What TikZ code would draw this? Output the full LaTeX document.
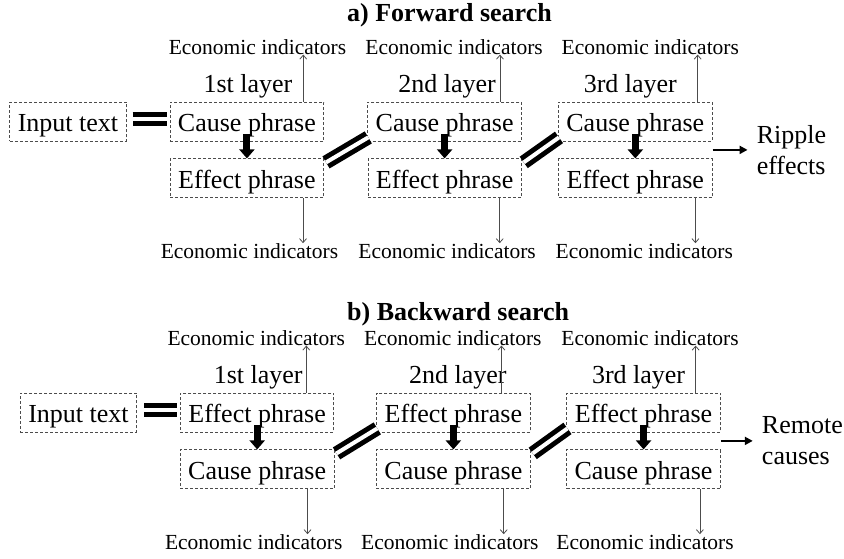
\documentclass[tikz,border=0pt]{standalone}
\usepackage{fontspec}
\setmainfont{Liberation Serif}
\usetikzlibrary{positioning, calc, arrows.meta}

\begin{document}
\begin{tikzpicture}[x=1pt, y=1pt]
  \newcommand\layergap{43pt}
  \newcommand\lastgap{36pt}
  \newcommand\rowgap{17pt}

  \tikzset{phrase/.style={draw=black!70, dash pattern=on 3pt off 2pt, line width=0.8pt, inner xsep=8pt, inner ysep=0pt, text height=29.5pt, text depth=9.5pt, font=\fontsize{26}{31}\selectfont}}
  \tikzset{bigtxt/.style={inner sep=0pt, font=\fontsize{26}{31}\selectfont}}
  \tikzset{indtxt/.style={inner sep=0pt, font=\fontsize{21.5}{25}\selectfont}}
  \tikzset{ttl/.style={inner sep=0pt, anchor=base west, font=\fontsize{26}{31}\selectfont\bfseries}}
  \tikzset{indptr/.style={draw=black!70, line width=0.8pt, -{Straight Barb[length=4pt, width=7pt]}}}
  \tikzset{stepptr/.style={line width=7pt, -{Triangle[length=9pt, width=15pt]}}}
  \tikzset{outptr/.style={line width=2.2pt, -{Triangle[length=8pt, width=8pt]}}}
  \tikzset{eqline/.style={line width=5pt, double, double distance=4pt}}

  \useasboundingbox (0, 0) rectangle (844, 558);

  % a) forward search
  \node[ttl] (fwd-title) at (347, 536) {a) Forward search};
  \node[phrase] (fwd-in) at (68, 436.5) {Input text};
  \node[phrase, right=\layergap of fwd-in] (fwd-t1) {Cause phrase};
  \node[phrase, below=\rowgap of fwd-t1] (fwd-b1) {Effect phrase};
  \node[phrase, right=\layergap of fwd-t1] (fwd-t2) {Cause phrase};
  \node[phrase, below=\rowgap of fwd-t2] (fwd-b2) {Effect phrase};
  \node[phrase, right=\lastgap of fwd-t2] (fwd-t3) {Cause phrase};
  \node[phrase, below=\rowgap of fwd-t3] (fwd-b3) {Effect phrase};
  \coordinate (fwd-out) at ($(fwd-t3.south east)!0.5!(fwd-b3.north east)$);
  \node[bigtxt, align=left, inner xsep=9pt, right=35pt of fwd-out] (fwd-end) {Ripple\\effects};

  \draw[eqline] ([xshift=6pt, yshift=2.5pt]fwd-in.east) -- ([xshift=-3pt, yshift=2.5pt]fwd-t1.west);
  \draw[eqline] ([shift={(2pt,-4pt)}]fwd-b1.north east) -- ([shift={(1pt,4pt)}]fwd-t2.south west);
  \draw[eqline] ([shift={(2pt,-4pt)}]fwd-b2.north east) -- ([shift={(1pt,4pt)}]fwd-t3.south west);
  \draw[outptr] (fwd-out) -- (fwd-end);

  % b) backward search
  \node[ttl] (bwd-title) at (347, 238) {b) Backward search};
  \node[phrase] (bwd-in) at (78.5, 145.5) {Input text};
  \node[phrase, right=\layergap of bwd-in] (bwd-t1) {Effect phrase};
  \node[phrase, below=\rowgap of bwd-t1] (bwd-b1) {Cause phrase};
  \node[phrase, right=42pt of bwd-t1] (bwd-t2) {Effect phrase};
  \node[phrase, below=\rowgap of bwd-t2] (bwd-b2) {Cause phrase};
  \node[phrase, right=\lastgap of bwd-t2] (bwd-t3) {Effect phrase};
  \node[phrase, below=\rowgap of bwd-t3] (bwd-b3) {Cause phrase};
  \coordinate (bwd-out) at ($(bwd-t3.south east)!0.5!(bwd-b3.north east)$);
  \node[bigtxt, align=left, inner xsep=9pt, right=32pt of bwd-out] (bwd-end) {Remote\\causes};

  \draw[eqline] ([xshift=7pt, yshift=2.5pt]bwd-in.east) -- ([xshift=-3pt, yshift=2.5pt]bwd-t1.west);
  \draw[eqline] ([shift={(2pt,-4pt)}]bwd-b1.north east) -- ([shift={(1pt,4pt)}]bwd-t2.south west);
  \draw[eqline] ([shift={(2pt,-4pt)}]bwd-b2.north east) -- ([shift={(1pt,4pt)}]bwd-t3.south west);
  \draw[outptr] (bwd-out) -- (bwd-end);

  % layers: label, indicators above and below, step arrow
  \foreach \s/\n/\lbl/\ls/\ua/\ut/\da/\dt in {
      fwd/1/1st/1pt/21pt/10.5pt/21pt/2.5pt,
      fwd/2/2nd/2.5pt/22pt/9.5pt/22pt/2.5pt,
      fwd/3/3rd/-5pt/15pt/15pt/17pt/9pt,
      bwd/1/1st/1pt/28pt/-1pt/27pt/-3.5pt,
      bwd/2/2nd/4.5pt/29pt/-0.5pt/27pt/-3.5pt,
      bwd/3/3rd/-5pt/25pt/6.5pt/21pt/1.5pt}{
    \node[bigtxt, above=3pt of \s-t\n, xshift=\ls] (\s-l\n) {\lbl{} layer};
    \node[indtxt, above=47pt of \s-t\n, xshift=\ut] (\s-u\n) {Economic indicators};
    \node[indtxt, below=45pt of \s-b\n, xshift=\dt] (\s-d\n) {Economic indicators};
    \coordinate (\s-ua\n) at ([xshift=-\ua]\s-t\n.north east);
    \coordinate (\s-da\n) at ([xshift=-\da]\s-b\n.south east);
    \draw[indptr] (\s-ua\n) -- (\s-ua\n |- \s-u\n.south);
    \draw[indptr] (\s-da\n) -- (\s-da\n |- \s-d\n.north);
    \draw[stepptr] ([yshift=7pt]\s-t\n.south) -- (\s-b\n.north);
  }
\end{tikzpicture}
\end{document}
